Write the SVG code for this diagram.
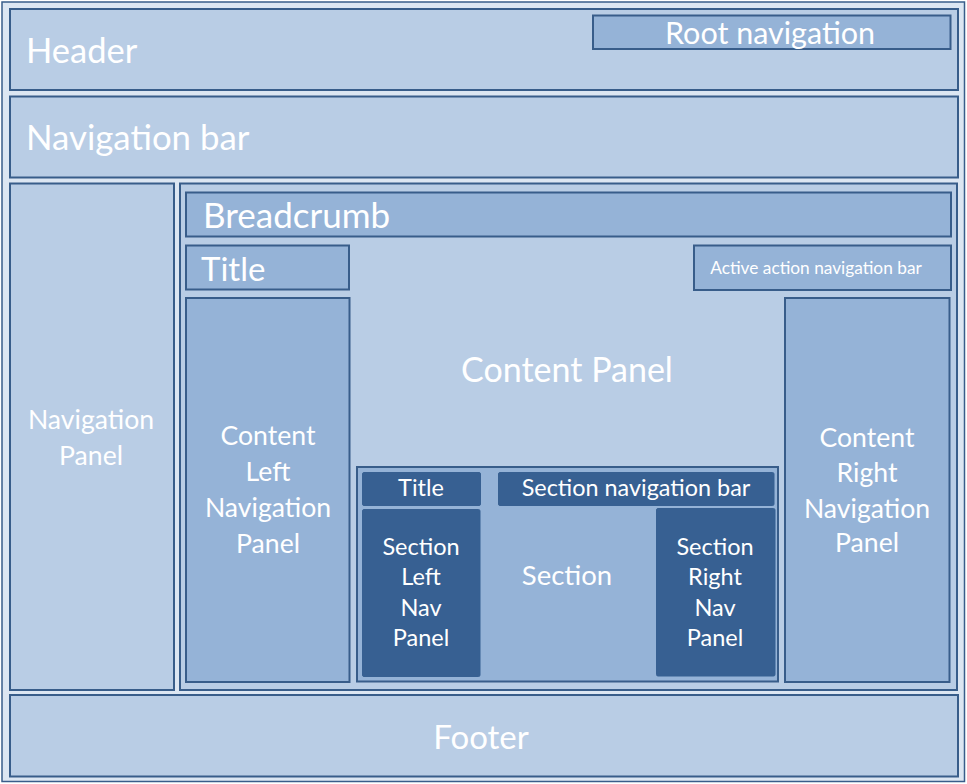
<svg xmlns="http://www.w3.org/2000/svg" width="967" height="784" viewBox="0 0 967 784">
<style>
.light{fill:#b9cde5;stroke:#385d8a;stroke-width:2}
.mid{fill:#95b3d7;stroke:#385d8a;stroke-width:2}
.dark{fill:#376092;stroke:#376092;stroke-width:1}
text{font-family:Lato,"Open Sans","Liberation Sans",sans-serif;fill:#ffffff}
.c{text-anchor:middle}
</style>
<rect x="2" y="2" width="962.5" height="779.5" fill="#dce6f2" stroke="#385d8a" stroke-width="1.5"/>
<g id="header">
<rect class="light" x="10" y="9" width="948" height="81"/>
<text x="26" y="63" font-size="34.5">Header</text>
</g>
<g id="root-navigation">
<rect class="mid" x="593" y="15.5" width="357.5" height="33.5"/>
<text class="c" x="770" y="43.5" font-size="30.5">Root navigation</text>
</g>
<g id="navigation-bar">
<rect class="light" x="10" y="96.5" width="948" height="81"/>
<text x="26" y="150" font-size="34.8">Navigation bar</text>
</g>
<g id="navigation-panel">
<rect class="light" x="10" y="183.5" width="164" height="506.5"/>
<text class="c" x="91" y="428.5" font-size="26.6">Navigation</text>
<text class="c" x="91" y="465" font-size="26.6">Panel</text>
</g>
<g id="content-panel">
<rect class="light" x="180" y="183.5" width="777" height="506.5" stroke-width="1.5"/>
<text class="c" x="567" y="382" font-size="34">Content Panel</text>
</g>
<g id="breadcrumb">
<rect class="mid" x="186" y="192.5" width="765" height="44"/>
<text x="203" y="228" font-size="35">Breadcrumb</text>
</g>
<g id="title">
<rect class="mid" x="186" y="245.5" width="163" height="44"/>
<text x="201" y="280.5" font-size="33">Title</text>
</g>
<g id="active-action-navigation-bar">
<rect class="mid" x="694" y="245.5" width="257" height="44.5"/>
<text class="c" x="816" y="274" font-size="17.3">Active action navigation bar</text>
</g>
<g id="content-left-navigation-panel">
<rect class="mid" x="186" y="298" width="163.5" height="384"/>
<text class="c" x="268" y="445" font-size="26.6">Content</text>
<text class="c" x="268" y="481" font-size="26.6">Left</text>
<text class="c" x="268" y="517" font-size="26.6">Navigation</text>
<text class="c" x="268" y="552.5" font-size="26.6">Panel</text>
</g>
<g id="content-right-navigation-panel">
<rect class="mid" x="785" y="298" width="164.5" height="384"/>
<text class="c" x="867" y="446.5" font-size="26.6">Content</text>
<text class="c" x="867" y="482" font-size="26.6">Right</text>
<text class="c" x="867" y="518" font-size="26.6">Navigation</text>
<text class="c" x="867" y="552" font-size="26.6">Panel</text>
</g>
<g id="section">
<rect class="mid" x="357" y="467" width="421" height="214.5" stroke-width="1.5"/>
<text class="c" x="567" y="584.5" font-size="27.5">Section</text>
</g>
<g id="section-title">
<rect class="dark" x="362.5" y="472.5" width="118" height="33" rx="1.5"/>
<text class="c" x="421" y="496" font-size="23.5">Title</text>
</g>
<g id="section-navigation-bar">
<rect class="dark" x="498.5" y="472.5" width="275.5" height="33" rx="1.5"/>
<text class="c" x="636" y="496" font-size="23.4">Section navigation bar</text>
</g>
<g id="section-left-nav-panel">
<rect class="dark" x="362.5" y="509.5" width="117.5" height="167" rx="1.5"/>
<text class="c" x="421" y="554.5" font-size="23.5">Section</text>
<text class="c" x="421" y="584.5" font-size="23.5">Left</text>
<text class="c" x="421" y="615.5" font-size="23.5">Nav</text>
<text class="c" x="421" y="646" font-size="23.5">Panel</text>
</g>
<g id="section-right-nav-panel">
<rect class="dark" x="656.5" y="508.5" width="118.5" height="167.5" rx="1.5"/>
<text class="c" x="715" y="554.5" font-size="23.5">Section</text>
<text class="c" x="715" y="584.5" font-size="23.5">Right</text>
<text class="c" x="715" y="615.5" font-size="23.5">Nav</text>
<text class="c" x="715" y="646" font-size="23.5">Panel</text>
</g>
<g id="footer">
<rect class="light" x="10" y="695" width="948" height="81.5"/>
<text class="c" x="481" y="748.5" font-size="33">Footer</text>
</g>
<g id="connectors"/>
</svg>
